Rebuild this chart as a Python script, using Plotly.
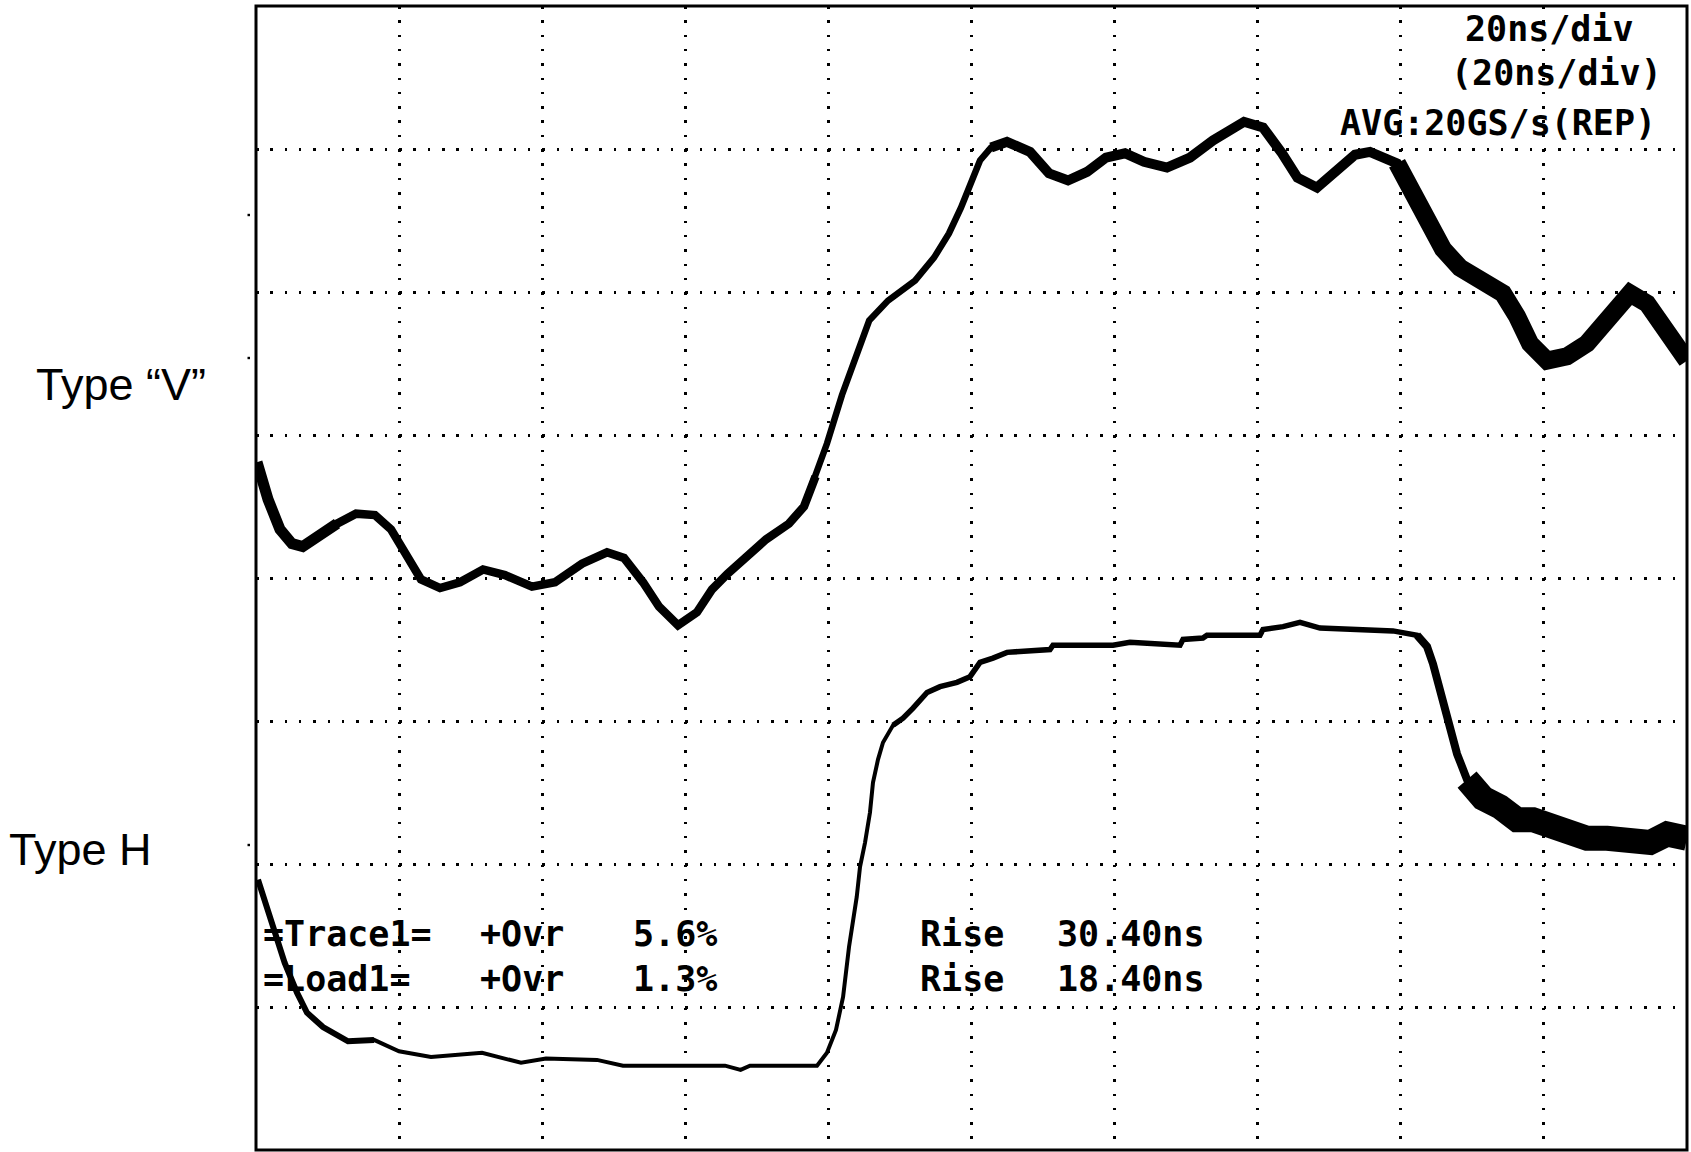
import plotly.graph_objects as go

# ---- data (time in ns, amplitude in screen divisions from bottom) ----
time_v = [0.14, 0.84, 1.68, 3.35, 5.03, 6.53, 8.67, 11.32, 13.98, 16.63, 18.87, 20.96, 23.06, 25.72,
          28.51, 31.73, 34.80, 38.57, 41.79, 45.56, 49.06, 51.43, 54.09, 56.32, 58.98, 61.63, 63.73,
          65.90, 68.62, 71.28, 74.49, 76.59, 78.20, 79.80, 81.90, 83.58, 85.70, 88.33, 92.11, 94.76,
          96.85, 98.53, 100.07, 101.19, 102.73, 104.96, 108.18, 110.83, 113.49, 116.14, 118.80,
          121.45, 124.11, 127.32, 130.54, 133.75, 138.09, 140.74, 143.40, 145.56, 148.29, 150.94,
          153.60, 155.69, 159.47, 162.40, 164.50, 165.90, 168.27, 171.49, 174.28, 176.24, 178.06,
          180.44, 183.23, 186.03, 188.83, 192.04, 194.42, 196.23, 198.61, 200.0]
volt_v = [4.81, 4.69, 4.55, 4.34, 4.24, 4.22, 4.29, 4.38, 4.45, 4.44, 4.34, 4.15, 3.99, 3.93,
          3.97, 4.06, 4.02, 3.94, 3.97, 4.10, 4.18, 4.14, 3.97, 3.80, 3.67, 3.76, 3.92,
          4.03, 4.15, 4.27, 4.38, 4.50, 4.71, 4.94, 5.28, 5.52, 5.80, 5.94, 6.08, 6.24,
          6.41, 6.59, 6.78, 6.92, 7.01, 7.05, 6.98, 6.83, 6.78, 6.84, 6.94,
          6.97, 6.91, 6.87, 6.94, 7.06, 7.19, 7.15, 6.97, 6.80, 6.73, 6.84,
          6.96, 6.98, 6.90, 6.63, 6.45, 6.30, 6.17, 6.08, 5.99, 5.83, 5.64,
          5.52, 5.55, 5.64, 5.80, 5.99, 5.92, 5.77, 5.62, 5.52]

time_h = [0.28, 0.84, 2.24, 4.00, 5.73, 7.13, 9.36, 12.86, 16.49, 19.99, 24.46, 31.59, 37.04, 40.53,
          47.66, 51.29, 65.55, 67.73, 69.04, 78.41, 79.80, 81.06, 82.05, 82.88, 83.96, 84.42, 85.12,
          85.81, 86.23, 86.93, 87.63, 89.03, 90.43, 91.83, 93.79, 95.60, 97.97, 99.79, 101.19,
          103.00, 104.96, 110.97, 111.39, 119.78, 122.15, 129.14, 129.56, 132.35, 132.91, 140.32,
          140.74, 143.54, 145.91, 148.71, 158.91, 162.27, 163.67, 164.50, 165.48, 166.60, 167.86,
          169.26, 171.49, 173.87, 176.24, 178.48, 180.85, 183.23, 186.03, 188.83, 191.62, 194.83,
          197.21, 200.0]
volt_h = [1.89, 1.80, 1.59, 1.31, 1.10, 0.96, 0.86, 0.76, 0.77, 0.69, 0.65, 0.68, 0.61, 0.64,
          0.63, 0.59, 0.59, 0.56, 0.59, 0.59, 0.68, 0.84, 1.07, 1.42, 1.77, 1.98, 2.15,
          2.36, 2.57, 2.73, 2.85, 2.97, 3.02, 3.09, 3.20, 3.24, 3.27, 3.31, 3.41,
          3.44, 3.48, 3.50, 3.53, 3.53, 3.55, 3.53, 3.57, 3.58, 3.60, 3.60,
          3.64, 3.66, 3.69, 3.65, 3.63, 3.60, 3.52, 3.40, 3.21, 2.99, 2.77,
          2.59, 2.46, 2.40, 2.31, 2.31, 2.27, 2.24, 2.18, 2.18, 2.18, 2.15,
          2.21, 2.18]

label_v = "Type \u201cV\u201d"
label_h = "Type H"
scope_header = ["20ns/div", "(20ns/div)", "AVG:20GS/s(REP)"]
row1 = ["=Trace1=", "+Ovr", "5.6%", "Rise", "30.40ns"]
row2 = ["=Load1=", "+Ovr", "1.3%", "Rise", "18.40ns"]

# ---- layout constants (pixels) ----
W, H = 1691, 1152
ML, MR, MT, MB = 256, 4, 6, 2
PW, PH = W - ML - MR, H - MT - MB


def pxx(x):
    return (x - ML) / PW


def pxy(y):
    return (H - MB - y) / PH


def segments(t, v, ranges):
    out = []
    for t0, t1, w in ranges:
        idx = [i for i in range(len(t)) if t0 <= t[i] <= t1]
        a = max(0, idx[0] - 1)
        b = min(len(t) - 1, idx[-1] + 1)
        out.append((t[a:b + 1], v[a:b + 1], w))
    return out


fig = go.Figure()

style_v = [(0, 11, 11), (11, 76.6, 8.5), (76.6, 104.96, 6.5), (104.96, 162.4, 10), (162.4, 200, 18)]
style_h = [(0, 12.9, 6), (12.9, 90.4, 4), (90.4, 162.3, 5.5), (162.3, 170.5, 8), (170.5, 200, 25)]

for tt, vv, w in segments(time_v, volt_v, style_v):
    fig.add_trace(go.Scatter(x=tt, y=vv, mode="lines",
                             line=dict(color="black", width=w), showlegend=False,
                             hoverinfo="skip"))
for tt, vv, w in segments(time_h, volt_h, style_h):
    fig.add_trace(go.Scatter(x=tt, y=vv, mode="lines",
                             line=dict(color="black", width=w), showlegend=False,
                             hoverinfo="skip"))

dots = "2.5px,11.81px"
fig.update_xaxes(range=[0, 200], dtick=20, tick0=0, showgrid=True, gridcolor="black",
                 gridwidth=2.5, griddash=dots, zeroline=False, showticklabels=False,
                 ticks="", showline=False, fixedrange=True)
fig.update_yaxes(range=[0, 8], dtick=1, tick0=0, showgrid=True, gridcolor="black",
                 gridwidth=2.5, griddash=dots, zeroline=False, showticklabels=False,
                 ticks="", showline=False, fixedrange=True)

shapes = [dict(type="rect", xref="paper", yref="paper", x0=0, x1=1, y0=0, y1=1,
               line=dict(color="black", width=3), layer="above")]
for yy in [215, 358, 845]:
    shapes.append(dict(type="rect", xref="paper", yref="paper",
                       x0=pxx(247.5), x1=pxx(250), y0=pxy(yy + 1.2), y1=pxy(yy - 1.2),
                       fillcolor="black", line=dict(width=0)))

annotations = []
mono = dict(family="DejaVu Sans Mono", size=35, color="black", weight="bold")
head_pos = [(1464, 29), (1450, 73), (1339, 123)]
for txt, (x, y) in zip(scope_header, head_pos):
    annotations.append(dict(text=txt, x=pxx(x), y=pxy(y), xref="paper", yref="paper",
                            xanchor="left", yanchor="middle", showarrow=False,
                            font=mono, borderpad=0))
col_x = [262, 479, 632, 919, 1056]
for row, yc in [(row1, 934), (row2, 979)]:
    for txt, x in zip(row, col_x):
        annotations.append(dict(text=txt, x=pxx(x), y=pxy(yc), xref="paper", yref="paper",
                                xanchor="left", yanchor="middle", showarrow=False,
                                font=mono, borderpad=0))

sans = dict(family="Liberation Sans, Arial", size=45, color="black")
annotations.append(dict(text=label_v, x=pxx(35), y=pxy(384), xref="paper", yref="paper",
                        xanchor="left", yanchor="middle", showarrow=False, font=sans, borderpad=0))
annotations.append(dict(text=label_h, x=pxx(8), y=pxy(849), xref="paper", yref="paper",
                        xanchor="left", yanchor="middle", showarrow=False, font=sans, borderpad=0))

fig.update_layout(width=W, height=H, autosize=False,
                  margin=dict(l=ML, r=MR, t=MT, b=MB, pad=0),
                  paper_bgcolor="white", plot_bgcolor="white",
                  shapes=shapes, annotations=annotations, showlegend=False)

fig.write_html("out.html", config={"displayModeBar": False, "responsive": False},
               post_script="document.body.style.margin='0';document.body.style.overflow='hidden';")
